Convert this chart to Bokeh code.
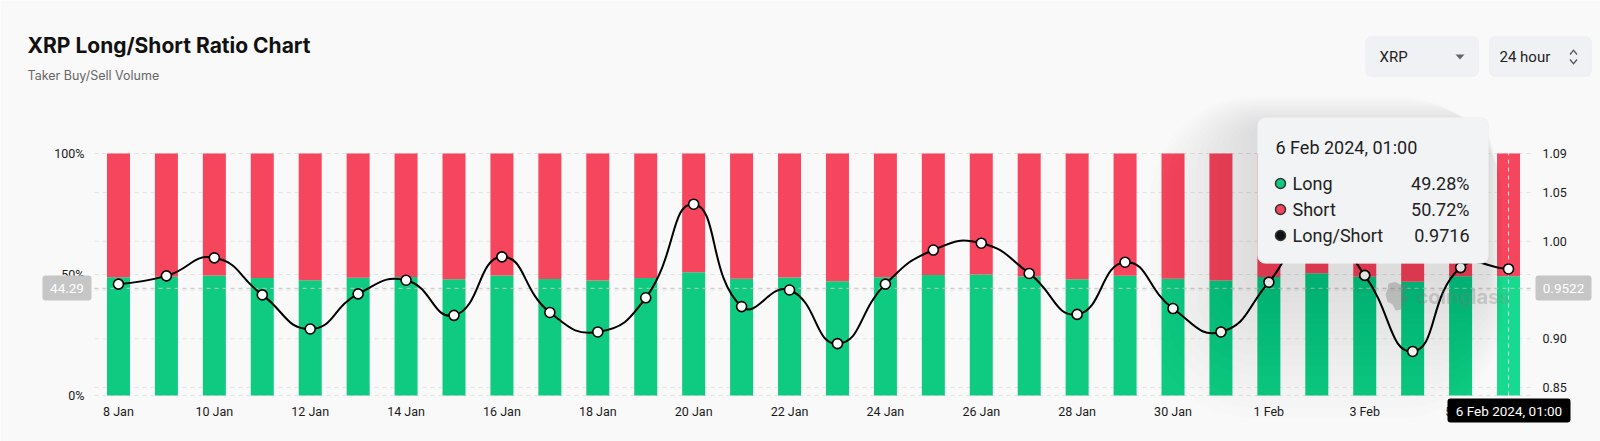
import math
from bokeh.plotting import figure
from bokeh.models import (Range1d, LinearAxis, FixedTicker, Label, BoxAnnotation,
                          PolyAnnotation, NumeralTickFormatter)
from bokeh.embed import file_html
from bokeh.resources import INLINE

# ---------------- data ----------------
dates = ["8 Jan", "9 Jan", "10 Jan", "11 Jan", "12 Jan", "13 Jan", "14 Jan", "15 Jan",
         "16 Jan", "17 Jan", "18 Jan", "19 Jan", "20 Jan", "21 Jan", "22 Jan", "23 Jan",
         "24 Jan", "25 Jan", "26 Jan", "27 Jan", "28 Jan", "29 Jan", "30 Jan", "31 Jan",
         "1 Feb", "2 Feb", "3 Feb", "4 Feb", "5 Feb", "6 Feb"]
long_pct = [48.87, 49.10, 49.57, 48.59, 47.64, 48.61, 48.98, 48.02, 49.60, 48.11,
            47.56, 48.51, 50.93, 48.27, 48.72, 47.23, 48.87, 49.77, 49.95, 49.16,
            48.05, 49.46, 48.21, 47.56, 48.93, 50.50, 49.11, 47.01, 49.32, 49.28]
short_pct = [51.13, 50.90, 50.43, 51.41, 52.36, 51.39, 51.02, 51.98, 50.40, 51.89,
             52.44, 51.49, 49.07, 51.73, 51.28, 52.77, 51.13, 50.23, 50.05, 50.84,
             51.95, 50.54, 51.79, 52.44, 51.07, 49.50, 50.89, 52.99, 50.68, 50.72]
ls_ratio = [0.956, 0.9645, 0.983, 0.945, 0.910, 0.946, 0.960, 0.924, 0.984, 0.927,
            0.907, 0.942, 1.038, 0.933, 0.950, 0.895, 0.956, 0.991, 0.998, 0.967,
            0.925, 0.9785, 0.931, 0.907, 0.958, 1.020, 0.965, 0.887, 0.973, 0.9716]
x_tick_idx = list(range(0, 30, 2))
x_tick_labels = ["8 Jan", "10 Jan", "12 Jan", "14 Jan", "16 Jan", "18 Jan", "20 Jan",
                 "22 Jan", "24 Jan", "26 Jan", "28 Jan", "30 Jan", "1 Feb", "3 Feb", "5 Feb"]
left_ticks = [0, 50, 100]
left_tick_labels = ["0%", "50%", "100%"]
right_ticks = [0.85, 0.90, 0.95, 1.00, 1.05, 1.09]

tooltip_date = "6 Feb 2024, 01:00"
tooltip_names = ["Long", "Short", "Long/Short"]
tooltip_values = ["49.28%", "50.72%", "0.9716"]
cross_left = 44.29
cross_left_text = "44.29"
cross_right_text = "0.9522"
cross_idx = 29

# ---------------- layout (page pixels) ----------------
GREEN = "#0ECB81"
GREEN_HI = "#17DA8F"
RED = "#F6465D"
BG = "#f9f9f9"
W, H = 1600, 441
FL, FT, FR, FB = 94, 153, 1532, 395   # plot area in page coordinates
N = len(dates)
px_per_x = (FR - FL) / N
px_per_pct = (FB - FT) / 100.0
R_TOP, R_LBL, Y_LBL = 1.09, 0.85, 387
px_per_r = (Y_LBL - FT) / (R_TOP - R_LBL)

x0 = -0.5 - FL / px_per_x
y0 = -(H - FB) / px_per_pct
r0 = R_TOP - (H - FT) / px_per_r


def dx(X):
    return x0 + X / px_per_x


def dy(Y):
    return y0 + (H - Y) / px_per_pct


def sx(X):
    return X


def sy(Y):
    return H - Y


p = figure(width=W, height=H, title=None,
           x_range=Range1d(x0, x0 + W / px_per_x),
           y_range=Range1d(y0, y0 + H / px_per_pct),
           output_backend="svg", toolbar_location=None,
           min_border=0, min_border_left=0, min_border_right=0,
           min_border_top=0, min_border_bottom=0,
           background_fill_color=BG, border_fill_color=BG, outline_line_color=None)
p.extra_y_ranges = {"r": Range1d(r0, r0 + H / px_per_r)}
p.xgrid.visible = False
p.ygrid.visible = False

TICK_FONT = "Roboto"
xa = p.xaxis[0]
xa.ticker = FixedTicker(ticks=x_tick_idx)
xa.major_label_overrides = {i: s for i, s in zip(x_tick_idx, x_tick_labels)}
xa.fixed_location = 0
ya = p.yaxis[0]
ya.ticker = FixedTicker(ticks=left_ticks)
ya.major_label_overrides = {i: s for i, s in zip(left_ticks, left_tick_labels)}
ya.fixed_location = -0.5
ra = LinearAxis(y_range_name="r", ticker=FixedTicker(ticks=right_ticks),
                formatter=NumeralTickFormatter(format="0.00"), fixed_location=N - 0.5)
p.add_layout(ra, "right")
for ax in (xa, ya, ra):
    ax.axis_line_color = None
    ax.major_tick_line_color = None
    ax.minor_tick_line_color = None
    ax.major_tick_out = 0
    ax.major_tick_in = 0
    ax.major_label_text_font = TICK_FONT
    ax.major_label_text_font_size = "12.5px"
    ax.major_label_text_color = "#1a1a1a"
xa.major_label_standoff = 8
ya.major_label_standoff = 10
ra.major_label_standoff = 10

# grid lines (dashed), drawn under the bars
GRID = "#e3e3e3"
p.segment(x0=-0.5, x1=N - 0.5, y0=left_ticks, y1=left_ticks, line_color=GRID,
          line_dash="4 4", line_width=1, level="underlay")
p.segment(x0=-0.5, x1=N - 0.5, y0=right_ticks, y1=right_ticks, line_color=GRID,
          line_dash="4 4", line_width=1, level="underlay", y_range_name="r")

# ---------------- bars ----------------
xs = list(range(N))
green_cols = [GREEN] * (N - 1) + [GREEN_HI]
p.vbar(x=xs, bottom=0, top=long_pct, width=0.48, fill_color=green_cols, line_color=None)
p.vbar(x=xs, bottom=long_pct, top=[lp + sp for lp, sp in zip(long_pct, short_pct)],
       width=0.48, fill_color=RED, line_color=None)

# crosshair
p.segment(x0=-0.5, x1=N - 0.5, y0=cross_left, y1=cross_left, line_color="#c4c4c4",
          line_dash="4 4", line_width=1)
p.segment(x0=cross_idx, x1=cross_idx, y0=0, y1=100, line_color="#ffffff",
          line_alpha=0.8, line_dash="4 4", line_width=1)

# ---------------- smooth line (bezier through the points) ----------------
pts = [(i * px_per_x, r * px_per_r) for i, r in enumerate(ls_ratio)]
smooth = 0.5
c_in, c_out = [], []
for i in range(N):
    x, y = pts[i]
    pxp, pyp = pts[i - 1] if i > 0 else pts[i]
    nxp, nyp = pts[i + 1] if i < N - 1 else pts[i]
    vx, vy = (nxp - pxp) * smooth, (nyp - pyp) * smooth
    d0 = math.hypot(x - pxp, y - pyp)
    d1 = math.hypot(nxp - x, nyp - y)
    rn = d1 / (d0 + d1) if d0 + d1 else 0.5
    if i == 0:
        c_out.append((x, y))
    else:
        c_out.append((x + vx * rn, y + vy * rn))
    c_in.append((x - vx * (1 - rn), y - vy * (1 - rn)))

seg = dict(x0=[], y0=[], x1=[], y1=[], cx0=[], cy0=[], cx1=[], cy1=[])
for i in range(N - 1):
    seg["x0"].append(pts[i][0] / px_per_x); seg["y0"].append(pts[i][1] / px_per_r)
    seg["x1"].append(pts[i + 1][0] / px_per_x); seg["y1"].append(pts[i + 1][1] / px_per_r)
    seg["cx0"].append(c_out[i][0] / px_per_x); seg["cy0"].append(c_out[i][1] / px_per_r)
    seg["cx1"].append(c_in[i + 1][0] / px_per_x); seg["cy1"].append(c_in[i + 1][1] / px_per_r)
p.bezier(line_color="#000000", line_width=2, y_range_name="r", **seg)
p.scatter(x=xs, y=ls_ratio, marker="circle", size=10, fill_color="white",
          line_color="#000000", line_width=1.6, y_range_name="r")


def sbox(xa_, xb_, ya_, yb_, fill, alpha=1.0, line=None, radius=0):
    return BoxAnnotation(left=sx(xa_), right=sx(xb_), top=sy(ya_), bottom=sy(yb_),
                         left_units="screen", right_units="screen",
                         top_units="screen", bottom_units="screen",
                         fill_color=fill, fill_alpha=alpha, line_color=line,
                         border_radius=radius)


def slabel(X, Y, text, size="13px", color="#222222", align="left", font="Roboto",
           style="normal", alpha=1.0):
    return Label(x=sx(X), y=sy(Y), x_units="screen", y_units="screen", text=text,
                 text_font=font, text_font_size=size, text_color=color, text_alpha=alpha,
                 text_align=align, text_baseline="middle", text_font_style=style)


def spoly(points, fill, alpha=1.0):
    return PolyAnnotation(xs=[sx(a) for a, b in points], ys=[sy(b) for a, b in points],
                          xs_units="screen", ys_units="screen",
                          fill_color=fill, fill_alpha=alpha, line_color=None)


# watermark (logo + word)
p.add_layout(spoly([(1388, 283), (1395, 281.5), (1400, 284), (1406, 283), (1407.5, 288),
                    (1403, 292), (1408, 297), (1404, 302), (1401, 309), (1395, 310),
                    (1392, 304), (1387, 301), (1385, 294), (1387, 289)], "#8a8a8a", 0.35))
p.add_layout(slabel(1416, 296.5, "coinglass", "20px", "#8a8a8a", font="Inter",
                    style="bold", alpha=0.3))

# crosshair labels
p.add_layout(sbox(42, 91, 275, 300, "#c6c6c6", radius=3))
p.add_layout(slabel(66.5, 288, cross_left_text, "13.5px", "#ffffff", "center"))
p.add_layout(sbox(1535, 1591, 275, 300, "#c6c6c6", radius=3))
p.add_layout(slabel(1563, 288, cross_right_text, "13.5px", "#ffffff", "center"))
p.add_layout(sbox(1447, 1570, 398, 422, "#000000", radius=3))
p.add_layout(slabel(1508.5, 410.5, tooltip_date, "13.5px", "#ffffff", "center"))

# ---------------- tooltip (with a soft shadow) ----------------
for k in range(1, 15):
    e = 7 * k
    p.add_layout(sbox(1257 - 1.1 * e, 1488 + 0.15 * e, 117 - 0.3 * e + 8,
                      263 + 1.5 * e + 8, "#000000", alpha=0.0095, radius=8 + e))
p.add_layout(sbox(1257, 1488, 117, 263, "#f2f3f5", line="#e9eaed", radius=8))
p.add_layout(slabel(1275, 146.5, tooltip_date, "18px", "#1e1e1e"))
row_y = [183, 209, 235]
dot_cols = [GREEN, RED, "#111111"]
for yy, name, val in zip(row_y, tooltip_names, tooltip_values):
    p.add_layout(slabel(1292, yy, name, "18px", "#222222"))
    p.add_layout(slabel(1469, yy, val, "18px", "#222222", "right"))
p.scatter(x=[dx(1280)] * 3, y=[dy(yy) for yy in row_y],
          marker="circle", size=10, fill_color=dot_cols, line_color="#333333",
          line_width=1.5, level="overlay")

# ---------------- header ----------------
p.add_layout(slabel(27, 45, "XRP Long/Short Ratio Chart", "21px", "#111111",
                    font="Inter", style="bold"))
p.add_layout(slabel(27, 75, "Taker Buy/Sell Volume", "12.5px", "#666666", font="Inter"))
p.add_layout(sbox(1365, 1478, 36, 76, "#eff1f4", line="#e2e5e9", radius=6))
p.add_layout(slabel(1379, 56.5, "XRP", "15px", "#222222"))
p.add_layout(spoly([(1455, 54), (1464, 54), (1459.5, 59)], "#666666"))
p.add_layout(sbox(1489, 1591, 36, 76, "#eff1f4", line="#e2e5e9", radius=6))
p.add_layout(slabel(1499, 56.5, "24 hour", "15px", "#222222"))
# up / down chevrons
p.add_layout(spoly([(1569, 53.5), (1573, 48.8), (1577, 53.5), (1576, 54.4),
                    (1573, 50.8), (1570, 54.4)], "#555555"))
p.add_layout(spoly([(1569, 59.5), (1573, 64.2), (1577, 59.5), (1576, 58.6),
                    (1573, 62.2), (1570, 58.6)], "#555555"))

open("out.html", "w").write(file_html(p, INLINE))
